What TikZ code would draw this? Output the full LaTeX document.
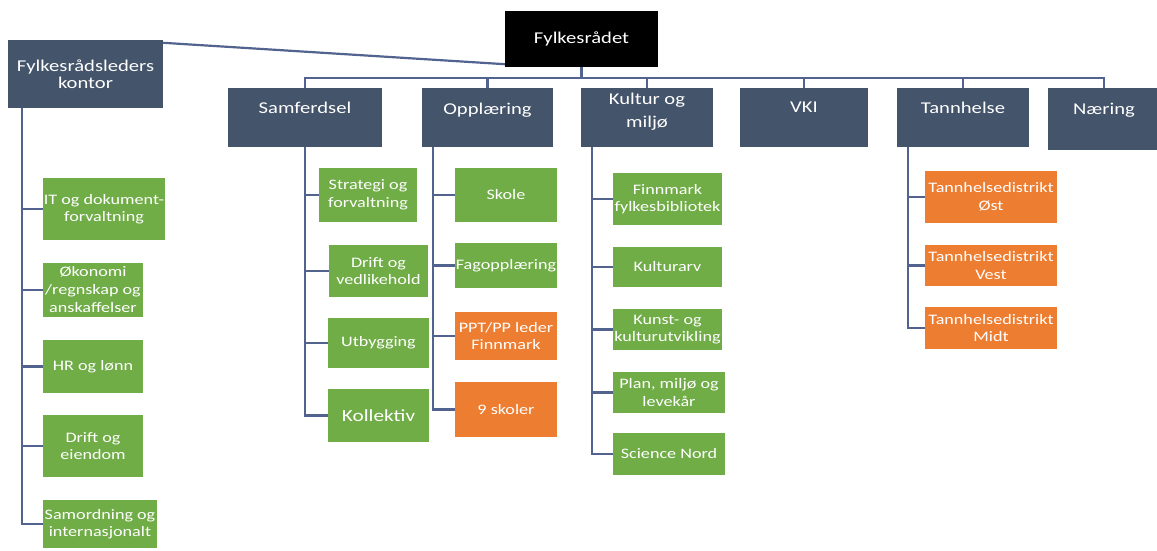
\documentclass[tikz,border=0pt]{standalone}
\usepackage{fontspec}
\setmainfont{Carlito}[FakeStretch=1.25]
\definecolor{slate}{HTML}{44546A}
\definecolor{grn}{HTML}{70AD47}
\definecolor{org}{HTML}{ED7D31}
\definecolor{linec}{HTML}{52638F}
\newcommand\boxfont{\fontsize{14.5}{17.5}\selectfont}
\newcommand\hdrfont{\fontsize{16.5}{19}\selectfont}
\tikzset{
  hdr/.style={fill=slate, draw=none, inner sep=0pt},
  htxt/.style={text=white, align=center, inner sep=0pt, font=\hdrfont},
  gbox/.style={fill=grn, text=white, align=center, inner sep=0pt, font=\boxfont},
  obox/.style={fill=org, text=white, align=center, inner sep=0pt, font=\boxfont},
  conn/.style={draw=linec, line width=2.2pt},
}
\begin{document}
\begin{tikzpicture}[x=1pt,y=-1pt]
\useasboundingbox (0,0) rectangle (1157,551);
\fill[white] (0,0) rectangle (1157,551);

% top
\node[fill=black, text=white, inner sep=0pt, minimum width=153pt, minimum height=56pt, font=\hdrfont] (fr) at (581.5,39) {Fylkesrådet};
\node[hdr, text=white, align=center, minimum width=155pt, minimum height=68pt, font=\fontsize{16.5}{17}\selectfont] (kontor) at (85.5,74) {Fylkesrådsleders\\kontor};

% second level
\node[hdr, minimum width=154pt, minimum height=59pt] (samf) at (305,117.5) {};
\node[hdr, minimum width=131pt, minimum height=59pt] (opp) at (487.5,117.5) {};
\node[hdr, minimum width=132pt, minimum height=59pt] (kult) at (647,117.5) {};
\node[hdr, minimum width=128pt, minimum height=59pt] (vki) at (804,117.5) {};
\node[hdr, minimum width=132pt, minimum height=59pt] (tann) at (963,117.5) {};
\node[hdr, minimum width=112pt, minimum height=62pt] (naer) at (1104,119) {};

\node[htxt] (samf-t) at (305,108) {Samferdsel};
\node[htxt] (opp-t) at (487.5,110) {Opplæring};
\node[htxt, font=\fontsize{16.5}{23}\selectfont] (kult-t) at (647,112) {Kultur og\\miljø};
\node[htxt] (vki-t) at (804,107) {VKI};
\node[htxt] (tann-t) at (963,108) {Tannhelse};
\node[htxt] (naer-t) at (1104,110) {Næring};

% connectors top
\draw[conn] ([yshift=-3pt]kontor.north east) -- ([yshift=3pt]fr.south west);
\coordinate (bus) at (581.5,78);
\draw[conn] (fr.south) -- (bus);
\foreach \c in {samf,opp,kult,vki,tann,naer}{\draw[conn] (bus) -| (\c.north);}

% left column
\node[gbox, minimum width=122pt, minimum height=62pt] (l1) at (104,209) {IT og dokument-\\forvaltning};
\node[gbox, minimum width=100pt, minimum height=54pt, font=\fontsize{14.5}{18}\selectfont] (l2) at (93,290) {Økonomi\\/regnskap og\\anskaffelser};
\node[gbox, minimum width=100pt, minimum height=53pt] (l3) at (93,366.5) {HR og lønn};
\node[gbox, minimum width=100pt, minimum height=62pt] (l4) at (93,446) {Drift og\\eiendom};
\node[gbox, minimum width=114pt, minimum height=48pt] (l5) at (100,524) {Samordning og\\internasjonalt};
\foreach \c in {l1,l2,l3,l4,l5}{\draw[conn] ([xshift=14pt]kontor.south west) |- (\c.west);}

% Samferdsel
\node[gbox, minimum width=98pt, minimum height=54pt] (s1) at (368,195) {Strategi og\\forvaltning};
\node[gbox, minimum width=99pt, minimum height=52pt] (s2) at (378.5,271) {Drift og\\vedlikehold};
\node[gbox, minimum width=101pt, minimum height=50pt] (s3) at (378.5,343) {Utbygging};
\node[gbox, minimum width=101pt, minimum height=53pt, font=\fontsize{17}{19}\selectfont] (s4) at (378.5,415.5) {Kollektiv};
\foreach \c in {s1,s2,s3,s4}{\draw[conn] (samf.south) |- (\c.west);}

% Opplaering
\node[gbox, minimum width=102pt, minimum height=54pt] (o1) at (506,195) {Skole};
\node[gbox, minimum width=102pt, minimum height=45pt] (o2) at (506,265.5) {Fagopplæring};
\node[obox, minimum width=102pt, minimum height=48pt] (o3) at (506,336) {PPT/PP leder\\Finnmark};
\node[obox, minimum width=102pt, minimum height=55pt] (o4) at (506,409.5) {9  skoler};
\foreach \c in {o1,o2,o3,o4}{\draw[conn] ([xshift=11pt]opp.south west) |- (\c.west);}

% Kultur
\node[gbox, minimum width=109pt, minimum height=52pt] (k1) at (667.5,199) {Finnmark\\fylkesbibliotek};
\node[gbox, minimum width=109pt, minimum height=40pt] (k2) at (667.5,267) {Kulturarv};
\node[gbox, minimum width=109pt, minimum height=41pt] (k3) at (667.5,329.5) {Kunst- og\\kulturutvikling};
\node[gbox, minimum width=112pt, minimum height=41pt] (k4) at (669,392.5) {Plan, miljø og\\levekår};
\node[gbox, minimum width=112pt, minimum height=42pt] (k5) at (669,454) {Science Nord};
\foreach \c in {k1,k2,k3,k4,k5}{\draw[conn] ([xshift=11pt]kult.south west) |- (\c.west);}

% Tannhelse
\node[obox, minimum width=132pt, minimum height=52pt] (t1) at (991,197) {Tannhelsedistrikt\\Øst};
\node[obox, minimum width=132pt, minimum height=41pt] (t2) at (991,265.5) {Tannhelsedistrikt\\Vest};
\node[obox, minimum width=132pt, minimum height=42pt] (t3) at (991,328) {Tannhelsedistrikt\\Midt};
\foreach \c in {t1,t2,t3}{\draw[conn] ([xshift=11pt]tann.south west) |- (\c.west);}
\end{tikzpicture}
\end{document}
